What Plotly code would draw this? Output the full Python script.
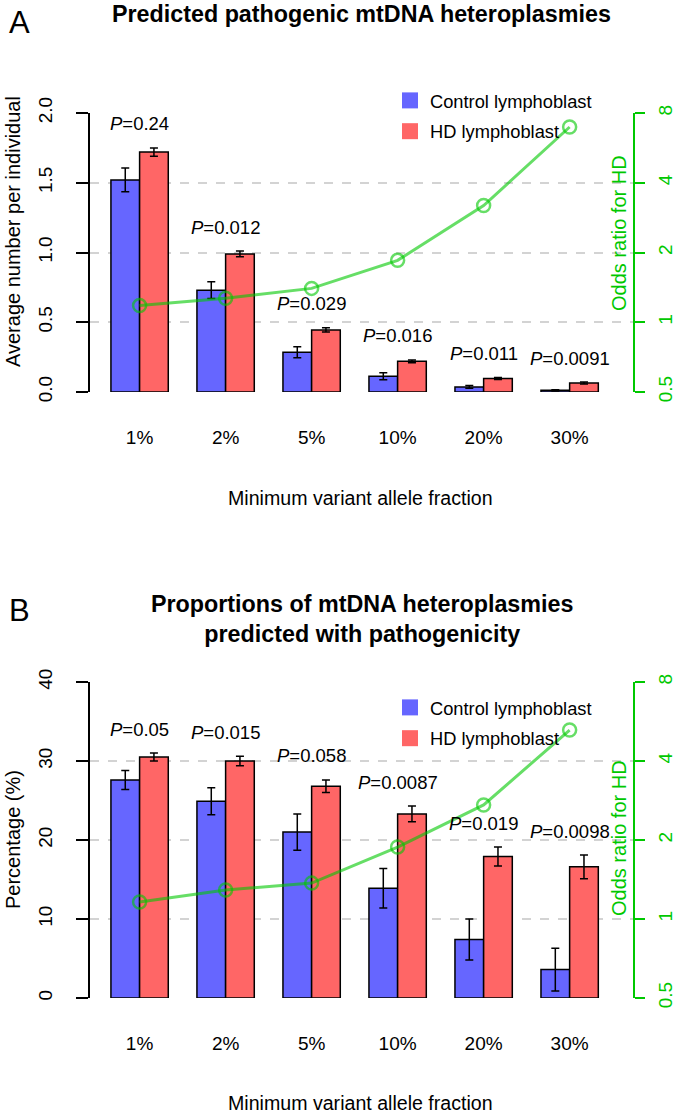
import math
import plotly.graph_objects as go

# ---------------- data ----------------
categories = ["1%", "2%", "5%", "10%", "20%", "30%"]

# Panel A: average number per individual
a_control = [1.52, 0.73, 0.285, 0.113, 0.036, 0.012]
a_control_err = [0.085, 0.06, 0.04, 0.025, 0.01, 0.004]
a_hd = [1.72, 0.99, 0.445, 0.22, 0.097, 0.064]
a_hd_err = [0.03, 0.02, 0.015, 0.01, 0.007, 0.007]
a_odds = [1.18, 1.27, 1.40, 1.85, 3.19, 6.96]
a_pvals = ["0.24", "0.012", "0.029", "0.016", "0.011", "0.0091"]

# Panel B: percentage predicted with pathogenicity
b_control = [27.6, 24.9, 21.0, 13.9, 7.4, 3.6]
b_control_err = [1.2, 1.7, 2.3, 2.5, 2.6, 2.7]
b_hd = [30.5, 30.0, 26.8, 23.3, 17.9, 16.6]
b_hd_err = [0.5, 0.6, 0.8, 1.0, 1.2, 1.5]
b_odds = [1.16, 1.29, 1.37, 1.88, 2.72, 5.25]
b_pvals = ["0.05", "0.015", "0.058", "0.0087", "0.019", "0.0098"]

odds_ticks = [0.5, 1, 2, 4, 8]
grid_odds = [1, 2, 4]

# ---------------- style ----------------
W, H = 677, 1117
FONT = "Liberation Sans, Arial, Helvetica, sans-serif"
BLUE = "#6666FF"
RED = "#FF6666"
GREEN = "#00C800"
LINEGREEN = "rgba(0,200,0,0.6)"
GRID = "#D3D3D3"
FS_TICK = 19
FS_LEG = 18.3
FS_P = 18.5
FS_TITLE = 20
FS_XTITLE = 19.6

centers = [3 * i + 2 for i in range(len(categories))]
ctrl_x = [c - 0.5 for c in centers]
hd_x = [c + 0.5 for c in centers]

X_DOMAIN = [90 / W, 633 / W]
X_RANGE = [0.27, 19.21]


def ydom(top_px, bottom_px):
    return [1 - bottom_px / H, 1 - top_px / H]


A_DOM = ydom(113, 392)
B_DOM = ydom(682, 998)

fig = go.Figure()


def add_panel(xa, ya, ya2, ctrl, ctrl_err, hd, hd_err, odds, legend):
    fig.add_trace(go.Bar(
        x=ctrl_x, y=ctrl, width=1, xaxis=xa, yaxis=ya, showlegend=False,
        marker=dict(color=BLUE, line=dict(color="black", width=1.5)),
        error_y=dict(type="data", array=ctrl_err, color="black", thickness=1.5, width=4),
        name="Control lymphoblast"))
    fig.add_trace(go.Bar(
        x=hd_x, y=hd, width=1, xaxis=xa, yaxis=ya, showlegend=False,
        marker=dict(color=RED, line=dict(color="black", width=1.5)),
        error_y=dict(type="data", array=hd_err, color="black", thickness=1.5, width=4),
        name="HD lymphoblast"))
    fig.add_trace(go.Scatter(
        x=centers, y=odds, xaxis=xa, yaxis=ya2, mode="lines+markers", showlegend=False,
        line=dict(color=LINEGREEN, width=3),
        marker=dict(symbol="circle-open", size=13, color=LINEGREEN, line=dict(width=2.5, color=LINEGREEN)),
        name="Odds ratio"))
    # legend entries (square swatches without outline)
    fig.add_trace(go.Scatter(
        x=[None], y=[None], xaxis=xa, yaxis=ya, mode="markers", legend=legend,
        legendgroup=legend + "c",
        marker=dict(symbol="square", size=16, color=BLUE), name="Control lymphoblast"))
    fig.add_trace(go.Scatter(
        x=[None], y=[None], xaxis=xa, yaxis=ya, mode="markers", legend=legend,
        legendgroup=legend + "h",
        marker=dict(symbol="square", size=16, color=RED), name="HD lymphoblast"))


add_panel("x", "y", "y2", a_control, a_control_err, a_hd, a_hd_err, a_odds, "legend")
add_panel("x2", "y3", "y4", b_control, b_control_err, b_hd, b_hd_err, b_odds, "legend2")

xaxis_common = dict(
    domain=X_DOMAIN, range=X_RANGE, tickvals=centers, ticktext=categories,
    showline=False, zeroline=False, showgrid=False, ticks="",
    tickfont=dict(size=FS_TICK, color="black"), ticklabelstandoff=32, fixedrange=True,
    automargin=False)

left_common = dict(
    showline=True, linecolor="black", linewidth=2, ticks="outside", ticklen=12,
    tickwidth=2, tickcolor="black", tickangle=-90, showgrid=False, zeroline=False,
    tickfont=dict(size=FS_TICK, color="black"), ticklabelstandoff=16, automargin=False,
    fixedrange=True)

right_common = dict(
    type="log", range=[math.log10(0.5), math.log10(8)], tickvals=odds_ticks,
    ticktext=[str(v) for v in odds_ticks], side="right", showline=True,
    linecolor=GREEN, linewidth=2, ticks="outside", ticklen=10, tickwidth=2,
    tickcolor=GREEN, tickangle=-90, showgrid=False, zeroline=False,
    tickfont=dict(size=FS_TICK, color=GREEN), ticklabelstandoff=4, automargin=False,
    fixedrange=True,
    minor=dict(tickvals=grid_odds, showgrid=True, gridcolor=GRID, griddash="dash",
               gridwidth=1.5, ticklen=0))

fig.update_layout(
    width=W, height=H, margin=dict(l=0, r=0, t=0, b=0, pad=0, autoexpand=False),
    paper_bgcolor="white", plot_bgcolor="white",
    font=dict(family=FONT, size=FS_TICK, color="black"),
    barmode="overlay",
    xaxis=dict(anchor="y", **xaxis_common),
    yaxis=dict(domain=A_DOM, anchor="x", range=[0, 2], tickvals=[0, 0.5, 1, 1.5, 2],
               tickformat=".1f", **left_common),
    yaxis2=dict(domain=A_DOM, anchor="x", overlaying="y", **right_common),
    xaxis2=dict(anchor="y3", **xaxis_common),
    yaxis3=dict(domain=B_DOM, anchor="x2", range=[0, 40], tickvals=[0, 10, 20, 30, 40],
                **left_common),
    yaxis4=dict(domain=B_DOM, anchor="x2", overlaying="y3", **right_common),
    legend=dict(x=390 / W, y=1 - 82 / H, xanchor="left", yanchor="top",
                bgcolor="rgba(0,0,0,0)", font=dict(size=FS_LEG), tracegroupgap=4,
                itemclick=False, itemdoubleclick=False),
    legend2=dict(x=390 / W, y=1 - 689 / H, xanchor="left", yanchor="top",
                 bgcolor="rgba(0,0,0,0)", font=dict(size=FS_LEG), tracegroupgap=4,
                 itemclick=False, itemdoubleclick=False),
)

ann = []


def px_x(p):
    return p / W


def px_y(p):
    return 1 - p / H


# P-value labels above each group
for xa, ya, ctrl, ce, hd, he, pv in [
    ("x", "y", a_control, a_control_err, a_hd, a_hd_err, a_pvals),
    ("x2", "y3", b_control, b_control_err, b_hd, b_hd_err, b_pvals),
]:
    for i, c in enumerate(centers):
        top = max(ctrl[i] + ce[i], hd[i] + he[i])
        ann.append(dict(x=c, y=top, xref=xa, yref=ya, text="<i>P</i>=" + pv[i],
                        showarrow=False, yshift=24, font=dict(size=FS_P, color="black"),
                        xanchor="center", yanchor="middle"))

# Titles and panel letters
ann += [
    dict(x=px_x(361.5), y=px_y(14), xref="paper", yref="paper", showarrow=False,
         text="<b>Predicted pathogenic mtDNA heteroplasmies</b>",
         font=dict(size=23.3, color="black"), xanchor="center", yanchor="middle"),
    dict(x=px_x(361.5), y=px_y(619), xref="paper", yref="paper", showarrow=False,
         text="<b>Proportions of mtDNA heteroplasmies<br>predicted with pathogenicity</b>",
         font=dict(size=23.3, color="black"), xanchor="center", yanchor="middle"),
    dict(x=px_x(19), y=px_y(22), xref="paper", yref="paper", showarrow=False,
         text="A", font=dict(size=31, color="black"), xanchor="center", yanchor="middle"),
    dict(x=px_x(19), y=px_y(610), xref="paper", yref="paper", showarrow=False,
         text="B", font=dict(size=31, color="black"), xanchor="center", yanchor="middle"),
    # axis titles
    dict(x=px_x(13), y=px_y(232), xref="paper", yref="paper", showarrow=False,
         text="Average number per individual", textangle=-90,
         font=dict(size=FS_TITLE, color="black"), xanchor="center", yanchor="middle"),
    dict(x=px_x(13), y=px_y(840), xref="paper", yref="paper", showarrow=False,
         text="Percentage (%)", textangle=-90,
         font=dict(size=FS_TITLE, color="black"), xanchor="center", yanchor="middle"),
    dict(x=px_x(619), y=px_y(233), xref="paper", yref="paper", showarrow=False,
         text="Odds ratio for HD", textangle=-90,
         font=dict(size=FS_TITLE, color=GREEN), xanchor="center", yanchor="middle"),
    dict(x=px_x(619), y=px_y(838), xref="paper", yref="paper", showarrow=False,
         text="Odds ratio for HD", textangle=-90,
         font=dict(size=FS_TITLE, color=GREEN), xanchor="center", yanchor="middle"),
    dict(x=px_x(360.5), y=px_y(498), xref="paper", yref="paper", showarrow=False,
         text="Minimum variant allele fraction",
         font=dict(size=FS_XTITLE, color="black"), xanchor="center", yanchor="middle"),
    dict(x=px_x(360.5), y=px_y(1103), xref="paper", yref="paper", showarrow=False,
         text="Minimum variant allele fraction",
         font=dict(size=FS_XTITLE, color="black"), xanchor="center", yanchor="middle"),
]
fig.update_layout(annotations=ann)

fig.write_html("out.html", config={"displayModeBar": False, "staticPlot": False},
               post_script="document.body.style.margin='0px';")
